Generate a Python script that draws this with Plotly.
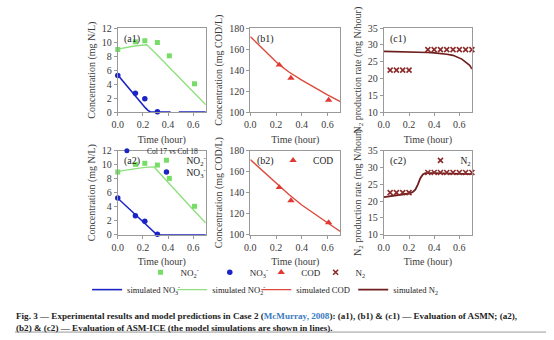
import plotly.graph_objects as go

# ---------------- data ----------------
t_meas_N = [0.0, 0.14, 0.215, 0.315, 0.41, 0.61]
no2_meas = [8.95, 10.05, 10.2, 9.95, 8.05, 4.05]
t_meas_no3 = [0.0, 0.14, 0.215, 0.315]
no3_meas = [5.25, 2.7, 1.9, 0.05]

# a1 simulations (ASMN)
t_a1_no2 = [0.0, 0.05, 0.1, 0.15, 0.2, 0.23, 0.3, 0.4, 0.5, 0.6, 0.7]
a1_no2_sim = [9.0, 9.2, 9.35, 9.48, 9.58, 9.62, 8.4, 6.6, 4.75, 2.9, 1.06]
t_a1_no3 = [0.0, 0.05, 0.1, 0.15, 0.2, 0.22, 0.24, 0.26, 0.3, 0.42, None, 0.485, 0.7]
a1_no3_sim = [5.3, 4.2, 3.1, 2.0, 1.0, 0.6, 0.25, 0.02, 0.0, 0.0, None, 0.0, 0.0]

# a2 simulations (ASM-ICE)
t_a2_no2 = [0.0, 0.05, 0.1, 0.15, 0.2, 0.25, 0.29, 0.35, 0.4, 0.5, 0.6, 0.7]
a2_no2_sim = [9.05, 9.2, 9.35, 9.48, 9.58, 9.65, 9.68, 8.45, 7.45, 5.5, 3.55, 1.66]
t_a2_no3 = [0.0, 0.05, 0.1, 0.15, 0.2, 0.25, 0.31, 0.4, 0.5, 0.6, 0.7]
a2_no3_sim = [5.2, 4.35, 3.5, 2.65, 1.8, 0.98, 0.0, 0.0, 0.0, 0.0, 0.0]

# COD
t_cod_meas = [0.225, 0.316, 0.609]
cod_meas = [145.0, 132.5, 111.5]
t_b1 = [0.0, 0.05, 0.1, 0.15, 0.2, 0.225, 0.3, 0.4, 0.5, 0.6, 0.7]
b1_sim = [172.0, 165.8, 159.8, 154.0, 148.0, 145.3, 138.2, 130.5, 123.3, 116.5, 110.0]
t_b2 = [0.0, 0.1, 0.2, 0.3, 0.4, 0.5, 0.6, 0.7]
b2_sim = [171.5, 160.5, 149.5, 138.2, 128.2, 119.5, 111.3, 103.0]

# N2 production rate
t_n2_meas = [0.05, 0.1, 0.15, 0.2, 0.35, 0.4, 0.45, 0.5, 0.55, 0.6, 0.65, 0.7]
n2_meas_1 = [22.5, 22.5, 22.5, 22.5, 28.6, 28.6, 28.6, 28.6, 28.6, 28.6, 28.6, 28.6]
n2_meas_2 = [22.5, 22.5, 22.5, 22.5, 28.5, 28.5, 28.5, 28.5, 28.5, 28.5, 28.5, 28.5]
t_c1 = [0.0, 0.1, 0.2, 0.3, 0.35, 0.4, 0.45, 0.5, 0.55, 0.59, 0.62, 0.64, 0.66, 0.68, 0.69, 0.7]
c1_sim = [28.1, 28.05, 27.95, 27.85, 27.75, 27.65, 27.5, 27.25, 26.9, 26.3, 25.8, 25.2, 24.7, 24.0, 23.5, 22.8]
t_c2 = [0.0, 0.05, 0.1, 0.15, 0.2, 0.23, 0.25, 0.27, 0.29, 0.31, 0.33, 0.4, 0.5, 0.6, 0.7]
c2_sim = [21.2, 21.45, 21.7, 21.95, 22.25, 22.7, 23.4, 24.9, 26.8, 27.9, 28.3, 28.35, 28.3, 28.2, 28.0]

x_ticks = [0.0, 0.2, 0.4, 0.6]
a_ticks = [0, 2, 4, 6, 8, 10, 12]
b_ticks = [100, 120, 140, 160, 180]
c_ticks = [10, 15, 20, 25, 30, 35]

# ---------------- style ----------------
W, H = 554, 340
SERIF = "Liberation Serif, Times New Roman, serif"
TXT = "#3a3a3a"
GREEN_M = "#77dd66"
GREEN_L = "#8fe07f"
BLUE = "#1b24c4"
RED_M = "#e03a34"
RED_L = "#db4a3c"
DRED_M = "#8c2b2b"
DRED_L = "#6e1e1e"

NO2 = "NO<sub>2</sub><sup>-</sup>"
NO3 = "NO<sub>3</sub><sup>-</sup>"


def px_x(p):
    return p / W


def px_y(p):
    return 1 - p / H


col_px = [(113, 202), (247, 338), (382, 471)]
row_px = [(23, 110), (150, 237)]

fig = go.Figure()

sq = dict(symbol="square", size=5, color=GREEN_M)
dot = dict(symbol="circle", size=5.5, color=BLUE)
tri = dict(symbol="triangle-up", size=6.5, color=RED_M)
xm = dict(symbol="x-thin", size=5, line=dict(width=1.6, color=DRED_M), color=DRED_M)

# ---- row 1 ----
fig.add_trace(go.Scatter(x=t_a1_no3, y=a1_no3_sim, mode="lines", line=dict(color=BLUE, width=1.6),
                         name="simulated " + NO3, legend="legend5", xaxis="x", yaxis="y"))
fig.add_trace(go.Scatter(x=t_a1_no2, y=a1_no2_sim, mode="lines", line=dict(color=GREEN_L, width=1.4),
                         name="simulated " + NO2, legend="legend6", xaxis="x", yaxis="y"))
fig.add_trace(go.Scatter(x=t_meas_N, y=no2_meas, mode="markers", marker=sq, name=NO2,
                         legend="legend", xaxis="x", yaxis="y", cliponaxis=False))
fig.add_trace(go.Scatter(x=t_meas_no3, y=no3_meas, mode="markers", marker=dot, name=NO3,
                         legend="legend2", xaxis="x", yaxis="y", cliponaxis=False))

fig.add_trace(go.Scatter(x=t_b1, y=b1_sim, mode="lines", line=dict(color=RED_L, width=1.4),
                         name="simulated COD", legend="legend7", xaxis="x2", yaxis="y2"))
fig.add_trace(go.Scatter(x=t_cod_meas, y=cod_meas, mode="markers", marker=tri, name="COD",
                         legend="legend3", xaxis="x2", yaxis="y2", cliponaxis=False))

fig.add_trace(go.Scatter(x=t_c1, y=c1_sim, mode="lines", line=dict(color=DRED_L, width=1.6),
                         name="simulated N<sub>2</sub>", legend="legend8", xaxis="x3", yaxis="y3"))
fig.add_trace(go.Scatter(x=t_n2_meas, y=n2_meas_1, mode="markers", marker=xm, name="N<sub>2</sub>",
                         legend="legend4", xaxis="x3", yaxis="y3", cliponaxis=False))

# ---- row 2 ----
fig.add_trace(go.Scatter(x=t_a2_no3, y=a2_no3_sim, mode="lines", line=dict(color=BLUE, width=1.4),
                         showlegend=False, xaxis="x4", yaxis="y4"))
fig.add_trace(go.Scatter(x=t_a2_no2, y=a2_no2_sim, mode="lines", line=dict(color=GREEN_L, width=1.4),
                         showlegend=False, xaxis="x4", yaxis="y4"))
fig.add_trace(go.Scatter(x=t_meas_N, y=no2_meas, mode="markers", marker=sq, name=NO2,
                         legend="legend9", xaxis="x4", yaxis="y4", cliponaxis=False))
fig.add_trace(go.Scatter(x=t_meas_no3, y=no3_meas, mode="markers", marker=dot, name=NO3,
                         legend="legend10", xaxis="x4", yaxis="y4", cliponaxis=False))

fig.add_trace(go.Scatter(x=t_b2, y=b2_sim, mode="lines", line=dict(color=RED_L, width=1.4),
                         showlegend=False, xaxis="x5", yaxis="y5"))
fig.add_trace(go.Scatter(x=t_cod_meas, y=cod_meas, mode="markers", marker=tri, name="COD",
                         legend="legend11", xaxis="x5", yaxis="y5", cliponaxis=False))

fig.add_trace(go.Scatter(x=t_c2, y=c2_sim, mode="lines", line=dict(color=DRED_L, width=1.8),
                         showlegend=False, xaxis="x6", yaxis="y6"))
fig.add_trace(go.Scatter(x=t_n2_meas, y=n2_meas_2, mode="markers", marker=xm, name="N<sub>2</sub>",
                         legend="legend12", xaxis="x6", yaxis="y6", cliponaxis=False))

# leftover legend entry "Col 17 vs Col 18"
fig.add_trace(go.Scatter(x=[None], y=[None], mode="markers", marker=dict(symbol="circle", size=5, color=BLUE),
                         name="Col 17 vs Col 18", legend="legend13", xaxis="x4", yaxis="y4"))

# ---------------- axes ----------------
axis_common = dict(showline=True, linecolor="#9a9a9a", linewidth=1, mirror=True, ticks="outside",
                   ticklen=3, tickcolor="#9a9a9a", showgrid=False, zeroline=False,
                   tickfont=dict(family=SERIF, size=10, color=TXT))
ytitles = ["Concentration (mg N/L)", "Concentration (mg COD/L)", "N<sub>2</sub> production rate (mg N/hour)"]
yranges = [[0, 12], [100, 180], [10, 35]]
ytickv = [a_ticks, b_ticks, c_ticks]

layout_axes = {}
n = 0
for r in range(2):
    for c in range(3):
        n += 1
        sx = "" if n == 1 else str(n)
        xd = [px_x(col_px[c][0]), px_x(col_px[c][1])]
        yd = [px_y(row_px[r][1]), px_y(row_px[r][0])]
        layout_axes["xaxis" + sx] = dict(axis_common, domain=xd, range=[0, 0.7], tickvals=x_ticks,
                                         tickformat=".1f", anchor="y" + sx,
                                         title=dict(text="Time (hour)", standoff=6,
                                                    font=dict(family=SERIF, size=10, color=TXT)))
        layout_axes["yaxis" + sx] = dict(axis_common, domain=yd, range=yranges[c], tickvals=ytickv[c],
                                         anchor="x" + sx,
                                         title=dict(text=ytitles[c], standoff=4,
                                                    font=dict(family=SERIF, size=10, color=TXT)))

# ---------------- legends ----------------
def leg(left, yc, size=9.5):
    # left: pixel position of the legend box's left edge
    return dict(x=px_x(left), y=px_y(yc), xanchor="left", yanchor="middle", orientation="h",
                bgcolor="rgba(0,0,0,0)", borderwidth=0,
                font=dict(family=SERIF, size=size, color="#222"))

legends = {
    "legend": leg(136, 276, 9), "legend2": leg(206, 276, 9), "legend3": leg(258, 276, 9),
    "legend4": leg(313, 276, 9),
    "legend5": leg(82, 294, 8.6), "legend6": leg(168, 294, 8.6), "legend7": leg(253, 294, 8.6),
    "legend8": leg(351, 294, 8.6),
    "legend9": leg(142, 160), "legend10": leg(142, 172), "legend11": leg(270, 160), "legend12": leg(419, 160),
    "legend13": leg(102, 150, 7.5),
}

# ---------------- annotations ----------------
panel_labels = ["(a1)", "(b1)", "(c1)", "(a2)", "(b2)", "(c2)"]
annots = []
n = 0
for r in range(2):
    for c in range(3):
        n += 1
        sx = "" if n == 1 else str(n)
        annots.append(dict(text=panel_labels[n - 1], xref=("x" + sx) + " domain", yref=("y" + sx) + " domain",
                           x=0.05, y=0.97, xanchor="left", yanchor="top", showarrow=False,
                           font=dict(family=SERIF, size=10, color="#222")))

caption = ("Fig. 3 \u2014 Experimental results and model predictions in Case 2 "
           "(<span style='color:#3b7bbf'>McMurray, 2008</span>): (a1), (b1) &amp; (c1) \u2014 Evaluation of ASMN; (a2),<br>"
           "(b2) &amp; (c2) \u2014 Evaluation of ASM-ICE (the model simulations are shown in lines).")
annots.append(dict(text="<b>" + caption + "</b>", xref="paper", yref="paper", x=px_x(8), y=px_y(314),
                   xanchor="left", yanchor="top", align="left", showarrow=False,
                   font=dict(family=SERIF, size=9.1, color="#222")))

shapes = [dict(type="line", xref="paper", yref="paper", x0=px_x(9), x1=px_x(546), y0=px_y(338), y1=px_y(338),
               line=dict(color="#999", width=1))]

fig.update_layout(width=W, height=H, margin=dict(l=0, r=0, t=0, b=0), paper_bgcolor="white",
                  plot_bgcolor="white", font=dict(family=SERIF, color=TXT),
                  annotations=annots, shapes=shapes, **layout_axes, **legends)

fig.write_html("out.html")
